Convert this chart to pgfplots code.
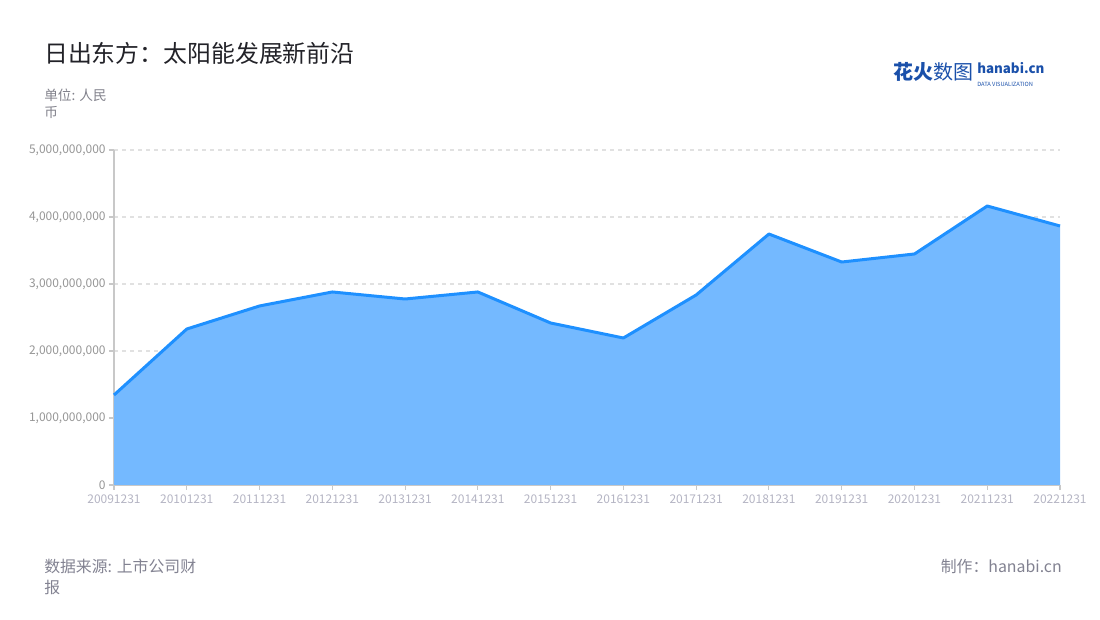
\documentclass[border=0pt]{standalone}
\usepackage{fontspec}
\setmainfont{Noto Sans CJK SC}
\usepackage{pgfplots}
\pgfplotsset{compat=1.18}
\definecolor{linec}{RGB}{30,144,255}
\definecolor{fillc}{RGB}{116,185,255}
\definecolor{titlec}{RGB}{34,34,40}
\definecolor{unitc}{RGB}{130,130,140}
\definecolor{ytickc}{RGB}{150,150,150}
\definecolor{xtickc}{RGB}{180,180,195}
\definecolor{footc}{RGB}{130,130,145}
\definecolor{logoc}{RGB}{26,80,170}
\definecolor{axc}{RGB}{200,200,200}
\definecolor{gridc}{RGB}{225,225,225}
\begin{document}
\begin{tikzpicture}[x=0.75pt,y=0.75pt]
\path (0,0) rectangle (1100,620);
% title
\node[anchor=base west,inner sep=0,text=titlec,font=\fontsize{17.9pt}{21pt}\selectfont] at (44,620-63) {日出东方：太阳能发展新前沿};
\node[anchor=base west,inner sep=0,text=unitc,font=\fontsize{10.25pt}{12pt}\selectfont] at (44,620-101) {单位: 人民};
\node[anchor=base west,inner sep=0,text=unitc,font=\fontsize{10.25pt}{12pt}\selectfont] at (44,620-118) {币};
% logo
\node[anchor=base west,inner sep=0,text=logoc,font=\fontsize{15pt}{18pt}\selectfont] at (893,620-80) {{\bfseries 花火}数图};
\node[anchor=north west,inner sep=0,text=logoc,align=left] at (977,620-62)
  {{\bfseries\fontsize{10pt}{9pt}\selectfont hanabi.cn}\\[-2.5pt]{\fontsize{4.3pt}{5pt}\selectfont DATA VISUALIZATION}};
% footer
\node[anchor=base west,inner sep=0,text=footc,font=\fontsize{11.9pt}{14pt}\selectfont] at (44,620-573) {数据来源: 上市公司财};
\node[anchor=base west,inner sep=0,text=footc,font=\fontsize{11.9pt}{14pt}\selectfont] at (44,620-594) {报};
\node[anchor=base east,inner sep=0,text=footc,font=\fontsize{11.9pt}{14pt}\selectfont] at (1062,620-573) {制作：hanabi.cn};
\begin{axis}[
  scale only axis,
  width=709.5pt, height=251.25pt,
  anchor=south west, at={(85.5pt,101.25pt)},
  xmin=0, xmax=13, ymin=0, ymax=5,
  axis x line=bottom, axis y line=left,
  axis line style={-, axc, line width=1.1pt},
  xtick={0,...,13},
  xticklabels={20091231,20101231,20111231,20121231,20131231,20141231,20151231,20161231,20171231,20181231,20191231,20201231,20211231,20221231},
  ytick={0,1,2,3,4,5},
  yticklabels={0,{1,000,000,000},{2,000,000,000},{3,000,000,000},{4,000,000,000},{5,000,000,000}},
  tick align=outside,
  major tick length=3.75pt,
  tick style={axc, line width=0.8pt},
  xticklabel style={text=xtickc, font=\fontsize{9pt}{10pt}\selectfont},
  yticklabel style={text=ytickc, font=\fontsize{9pt}{10pt}\selectfont, xshift=1pt},
  ymajorgrids,
  grid style={gridc, dashed, line width=0.8pt},
  clip=false,
]
\addplot[fill=fillc, draw=none] coordinates {
(0,1.343) (1,2.328) (2,2.672) (3,2.881) (4,2.776) (5,2.881) (6,2.418)
(7,2.194) (8,2.836) (9,3.746) (10,3.328) (11,3.448) (12,4.164) (13,3.866)
} \closedcycle;
\addplot[linec, line width=2.25pt, line join=round] coordinates {
(0,1.343) (1,2.328) (2,2.672) (3,2.881) (4,2.776) (5,2.881) (6,2.418)
(7,2.194) (8,2.836) (9,3.746) (10,3.328) (11,3.448) (12,4.164) (13,3.866)
};
\end{axis}
\end{tikzpicture}
\end{document}
